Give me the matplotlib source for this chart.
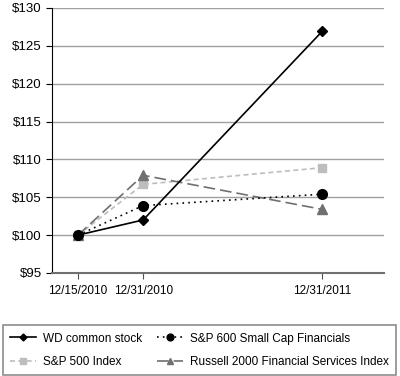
import matplotlib
matplotlib.use("Agg")
import matplotlib.pyplot as plt
import matplotlib.ticker as tck

plt.rcParams['font.family'] = ['Liberation Sans', 'DejaVu Sans']

# ------------------------------- data
dates = ["12/15/2010", "12/31/2010", "12/31/2011"]
x_pos = [0, 1, 3.75]
wd_stock = [100.0, 102.0, 126.9]
sp600_fin = [100.0, 103.9, 105.4]
sp500 = [100.0, 106.7, 108.9]
russell_fin = [100.0, 107.9, 103.4]

fig = plt.figure(figsize=(4.0, 3.76), dpi=100)
ax = fig.add_axes([0.13, 0.274, 0.83, 0.705])

l1, = ax.plot(x_pos, wd_stock, color="black", lw=1.2, marker="D", ms=5,
              label="WD common stock", zorder=5)
l2, = ax.plot(x_pos, sp600_fin, color="black", lw=1.2, ls=(0, (1, 2.5)), marker="o", ms=7,
              label="S&P 600 Small Cap Financials", zorder=4)
l3, = ax.plot(x_pos, sp500, color="#bdbdbd", lw=1.2, ls=(0, (3, 2)), marker="s", ms=6,
              label="S&P 500 Index", zorder=3)
l4, = ax.plot(x_pos, russell_fin, color="#707070", lw=1.2, ls=(0, (7, 3)), marker="^", ms=7,
              label="Russell 2000 Financial Services Index", zorder=3)

ax.set_ylim(95, 130)
ax.set_xlim(-0.4, 4.7)
ax.yaxis.set_major_locator(tck.MultipleLocator(5))
ax.yaxis.set_major_formatter(tck.FormatStrFormatter("$%d"))
ax.set_xticks(x_pos)
ax.set_xticklabels(dates)
ax.grid(axis="y", color="#a0a0a0", lw=1)
ax.set_axisbelow(True)

for s in ["top", "right"]:
    ax.spines[s].set_visible(False)
ax.spines["left"].set_color("black")
ax.spines["bottom"].set_color("#707070")
ax.spines["bottom"].set_linewidth(1.5)
ax.tick_params(axis="y", length=4, labelsize=9.5, color="black")
ax.tick_params(axis="x", length=4, labelsize=8.5, color="#505050", pad=5)

# column-wise fill -> order so rows read WD / S&P600, S&P500 / Russell
leg = fig.legend([l1, l3, l2, l4], [l.get_label() for l in (l1, l3, l2, l4)],
                 loc="lower left", bbox_to_anchor=(0.008, 0.003, 0.975, 0.13),
                 ncol=2, fontsize=8.5, frameon=True, fancybox=False,
                 handlelength=2.2, handletextpad=0.6, columnspacing=1.2,
                 borderaxespad=0, borderpad=0.6, labelspacing=0.95, markerscale=0.7)
leg.get_frame().set_edgecolor("#707070")
leg.get_frame().set_linewidth(1.2)

fig.savefig("out.png", dpi=100)
